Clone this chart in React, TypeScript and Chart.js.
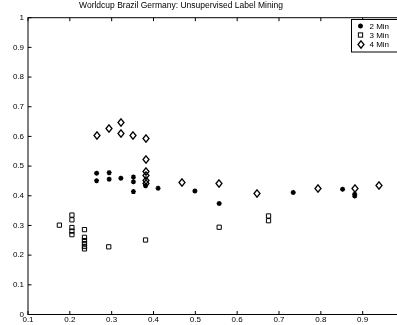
import React, { useEffect, useRef } from "react";
import { Chart, registerables } from "chart.js";

Chart.register(...registerables);

const chartTitle = "Worldcup Brazil Germany: Unsupervised Label Mining";
const seriesLabels = ["2 Min", "3 Min", "4 Min"];
const xMin = 0.1;
const xMax = 1.0;
const yMin = 0;
const yMax = 1;
const tickStep = 0.1;

// 2 Min (asterisks)
const min2X = [0.264, 0.264, 0.294, 0.294, 0.322, 0.352, 0.352, 0.352, 0.381, 0.411, 0.499, 0.557, 0.734, 0.852, 0.881, 0.881];
const min2Y = [0.476, 0.451, 0.478, 0.456, 0.459, 0.463, 0.447, 0.414, 0.434, 0.425, 0.416, 0.374, 0.411, 0.422, 0.405, 0.399];

// 3 Min (squares)
const min3X = [0.175, 0.205, 0.205, 0.205, 0.205, 0.205, 0.235, 0.235, 0.235, 0.235, 0.235, 0.235, 0.293, 0.381, 0.557, 0.675, 0.675];
const min3Y = [0.301, 0.335, 0.319, 0.293, 0.281, 0.269, 0.286, 0.260, 0.249, 0.239, 0.229, 0.221, 0.228, 0.251, 0.294, 0.332, 0.316];

// 4 Min (diamonds)
const min4X = [0.264, 0.294, 0.322, 0.322, 0.352, 0.381, 0.381, 0.381, 0.381, 0.381, 0.381, 0.469, 0.557, 0.647, 0.793, 0.881, 0.940];
const min4Y = [0.602, 0.626, 0.648, 0.611, 0.602, 0.592, 0.521, 0.483, 0.468, 0.453, 0.441, 0.446, 0.443, 0.409, 0.423, 0.425, 0.433];

const FONT = "'Liberation Sans', Arial, Helvetica, sans-serif";

function fmt(v: number | string) {
  return String(Math.round(Number(v) * 10) / 10);
}

function makeDiamond(): HTMLCanvasElement {
  const c = document.createElement("canvas");
  c.width = 8;
  c.height = 9;
  const g = c.getContext("2d");
  if (g) {
    g.strokeStyle = "#000";
    g.lineWidth = 1.3;
    g.beginPath();
    g.moveTo(4, 0.8);
    g.lineTo(7, 4.5);
    g.lineTo(4, 8.2);
    g.lineTo(1, 4.5);
    g.closePath();
    g.stroke();
  }
  return c;
}

function toPoints(xs: number[], ys: number[]) {
  return xs.map((x, i) => ({ x, y: ys[i] }));
}

export default function App() {
  const ref = useRef<HTMLCanvasElement | null>(null);

  useEffect(() => {
    if (!ref.current) return;
    const diamond = makeDiamond();

    const framePlugin = {
      id: "framePlugin",
      beforeDatasetsDraw(chart: any) {
        chart.ctx.imageSmoothingEnabled = false;
      },
      afterDraw(chart: any) {
        const ctx = chart.ctx as CanvasRenderingContext2D;
        const a = chart.chartArea;
        const xs = chart.scales.x;
        const ys = chart.scales.y;
        ctx.save();
        ctx.strokeStyle = "#000";
        ctx.lineWidth = 1;
        ctx.strokeRect(a.left, a.top, a.right - a.left, a.bottom - a.top);
        const L = 3.5;
        ctx.beginPath();
        for (const t of xs.ticks) {
          const px = xs.getPixelForValue(t.value);
          ctx.moveTo(px, a.bottom);
          ctx.lineTo(px, a.bottom - L);
          ctx.moveTo(px, a.top);
          ctx.lineTo(px, a.top + L);
        }
        for (const t of ys.ticks) {
          const py = ys.getPixelForValue(t.value);
          ctx.moveTo(a.left, py);
          ctx.lineTo(a.left + L, py);
          ctx.moveTo(a.right, py);
          ctx.lineTo(a.right - L, py);
        }
        ctx.stroke();

        // legend
        const bx = 351.5;
        const by = 19.5;
        const bw = 60;
        const bh = 32.5;
        ctx.fillStyle = "#fff";
        ctx.fillRect(bx, by, bw, bh);
        ctx.strokeRect(bx, by, bw, bh);
        const rows = [26, 35, 44];
        const mx = 360.5;
        ctx.font = `8px ${FONT}`;
        ctx.textBaseline = "middle";
        ctx.textAlign = "left";
        // asterisk
        ctx.lineWidth = 1.4;
        ctx.beginPath();
        const r = 2.5;
        ctx.moveTo(mx - r, rows[0]);
        ctx.lineTo(mx + r, rows[0]);
        ctx.moveTo(mx, rows[0] - r);
        ctx.lineTo(mx, rows[0] + r);
        const d = r * Math.SQRT1_2;
        ctx.moveTo(mx - d, rows[0] - d);
        ctx.lineTo(mx + d, rows[0] + d);
        ctx.moveTo(mx - d, rows[0] + d);
        ctx.lineTo(mx + d, rows[0] - d);
        ctx.stroke();
        // square
        ctx.lineWidth = 1;
        const s = 3 * Math.SQRT1_2;
        ctx.strokeRect(mx - s, rows[1] - s, 2 * s, 2 * s);
        // diamond
        ctx.imageSmoothingEnabled = false;
        ctx.drawImage(diamond, Math.round(mx - diamond.width / 2), Math.round(rows[2] - diamond.height / 2));
        ctx.fillStyle = "#000";
        seriesLabels.forEach((lab, i) => ctx.fillText(lab, 369.5, rows[i] + 0.5));
        ctx.restore();
      },
    };

    const chart = new Chart(ref.current, {
      type: "scatter",
      data: {
        datasets: [
          {
            label: seriesLabels[0],
            data: toPoints(min2X, min2Y),
            pointStyle: "star",
            pointRadius: 2.5,
            borderColor: "#000",
            backgroundColor: "#000",
            borderWidth: 1.4,
          },
          {
            label: seriesLabels[1],
            data: toPoints(min3X, min3Y),
            pointStyle: "rect",
            pointRadius: 3,
            borderColor: "#000",
            backgroundColor: "rgba(0,0,0,0)",
            borderWidth: 1,
          },
          {
            label: seriesLabels[2],
            data: toPoints(min4X, min4Y),
            pointStyle: diamond as any,
            pointRadius: 4,
            borderColor: "#000",
            backgroundColor: "rgba(0,0,0,0)",
            borderWidth: 1,
          },
        ],
      },
      options: {
        animation: false,
        responsive: false,
        devicePixelRatio: 1,
        events: [],
        layout: { padding: { top: 17.7, right: 15.5, left: 0, bottom: 0 } },
        plugins: {
          legend: { display: false },
          title: { display: false },
          tooltip: { enabled: false },
        },
        scales: {
          x: {
            type: "linear",
            min: xMin,
            max: xMax,
            grid: { display: false, drawTicks: false, tickLength: 0 },
            border: { display: false },
            ticks: {
              stepSize: tickStep,
              color: "#000",
              padding: 0,
              maxRotation: 0,
              font: { family: FONT, size: 8 },
              callback: (v: any) => fmt(v),
            },
            afterFit: (s: any) => {
              s.height = 10.5;
            },
          },
          y: {
            type: "linear",
            min: yMin,
            max: yMax,
            grid: { display: false, drawTicks: false, tickLength: 0 },
            border: { display: false },
            ticks: {
              stepSize: tickStep,
              color: "#000",
              padding: 4,
              font: { family: FONT, size: 8 },
              callback: (v: any) => fmt(v),
            },
            afterFit: (s: any) => {
              s.width = 28;
            },
          },
        },
      },
      plugins: [framePlugin],
    });
    return () => chart.destroy();
  }, []);

  return (
    <div
      style={{
        position: "fixed",
        left: 0,
        top: 0,
        width: 397,
        height: 325,
        overflow: "hidden",
        background: "#fff",
      }}
    >
      <div
        style={{
          position: "absolute",
          left: 0,
          top: 0,
          width: 362,
          textAlign: "center",
          fontFamily: FONT,
          fontSize: "8.5px",
          lineHeight: "10px",
          color: "#000",
          whiteSpace: "nowrap",
        }}
      >
        {chartTitle}
      </div>
      <canvas ref={ref} width={420} height={325} style={{ display: "block" }} />
    </div>
  );
}
